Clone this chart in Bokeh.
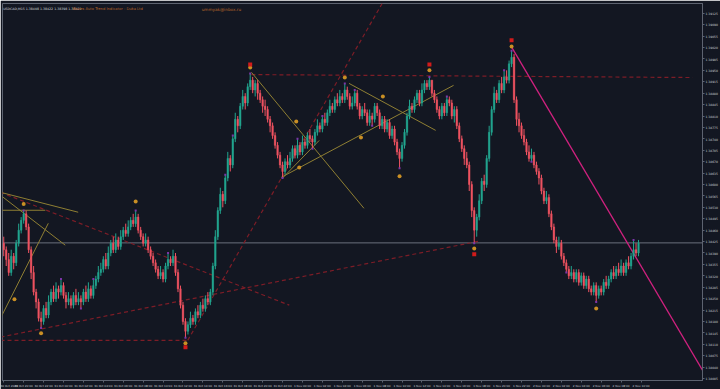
from bokeh.plotting import figure
from bokeh.models import ColumnDataSource, FixedTicker, Range1d, Label, PrintfTickFormatter
from bokeh.embed import file_html
from bokeh.resources import INLINE

# ---------------- data ----------------
symbol = "USDCAD,M15"
header_quote = ["1.38408", "1.38422", "1.38398", "1.38421"]
current_price = 1.38421

first_open = 1.3842
closes = [
    1.3840, 1.3837, 1.3833, 1.3838, 1.3836, 1.3842, 1.3846, 1.3849, 1.3851, 1.3847,
    1.3840, 1.3833, 1.3827, 1.3824, 1.3819, 1.3818, 1.3822, 1.3820, 1.3824, 1.3827,
    1.3825, 1.3828, 1.3827, 1.3829, 1.3826, 1.3824, 1.3825, 1.3823, 1.3826, 1.3824,
    1.3825, 1.3824, 1.3827, 1.3825, 1.3828, 1.3826, 1.3829, 1.3831, 1.3833, 1.3834,
    1.3837, 1.3835, 1.3839, 1.3842, 1.3840, 1.3843, 1.3841, 1.3844, 1.3846, 1.3845,
    1.3847, 1.3849, 1.3848, 1.3850, 1.3846, 1.3844, 1.3842, 1.3843, 1.3840, 1.3838,
    1.3836, 1.3834, 1.3832, 1.3833, 1.3831, 1.3835, 1.3837, 1.3836, 1.3838, 1.3833,
    1.3828, 1.3823, 1.3818, 1.3815, 1.3817, 1.3819, 1.3818, 1.3821, 1.3820, 1.3823,
    1.3822, 1.3825, 1.3824, 1.3827, 1.3835, 1.3844, 1.3852, 1.3857, 1.3855, 1.3862,
    1.3868, 1.3866, 1.3874, 1.3880, 1.3878, 1.3884, 1.3887, 1.3885, 1.3890, 1.3892,
    1.3889, 1.3891, 1.3888, 1.3886, 1.3884, 1.3883, 1.3880, 1.3878, 1.3875, 1.3872,
    1.3869, 1.3866, 1.3864, 1.3867, 1.3866, 1.3868, 1.3871, 1.3869, 1.3872, 1.3870,
    1.3873, 1.3872, 1.3875, 1.3874, 1.3873, 1.3876, 1.3878, 1.3877, 1.3880, 1.3879,
    1.3882, 1.3884, 1.3883, 1.3886, 1.3885, 1.3887, 1.3886, 1.3889, 1.3887, 1.3884,
    1.3885, 1.3888, 1.3884, 1.3881, 1.3883, 1.3882, 1.3879, 1.3881, 1.3880, 1.3884,
    1.3882, 1.3878, 1.3880, 1.3877, 1.3879, 1.3875, 1.3877, 1.3873, 1.3870, 1.3868,
    1.3872, 1.3876, 1.3881, 1.3884, 1.3883, 1.3886, 1.3888, 1.3885, 1.3889, 1.3891,
    1.3890, 1.3892, 1.3888, 1.3886, 1.3883, 1.3881, 1.3884, 1.3882, 1.3886, 1.3885,
    1.3881, 1.3883, 1.3878, 1.3874, 1.3871, 1.3868, 1.3866, 1.3860, 1.3852, 1.3846,
    1.3850, 1.3855, 1.3861, 1.3860, 1.3868, 1.3876, 1.3883, 1.3888, 1.3886, 1.3891,
    1.3889, 1.3893, 1.3892, 1.3897, 1.3899, 1.3886, 1.3880, 1.3878, 1.3875, 1.3873,
    1.3870, 1.3868, 1.3869, 1.3866, 1.3864, 1.3862, 1.3858, 1.3855, 1.3856, 1.3851,
    1.3847, 1.3843, 1.3841, 1.3842, 1.3838, 1.3836, 1.3834, 1.3832, 1.3833, 1.3831,
    1.3833, 1.3830, 1.3832, 1.3829, 1.3831, 1.3828, 1.3827, 1.3829, 1.3826, 1.3828,
    1.3827, 1.3830, 1.3829, 1.3831, 1.3833, 1.3832, 1.3834, 1.3833, 1.3835, 1.3833,
    1.3836, 1.3835, 1.3838, 1.3840, 1.3839, 1.3842]
highs = [
    1.3844, 1.3841, 1.3839, 1.3840, 1.3839, 1.3843, 1.3848, 1.3850, 1.3852, 1.3852,
    1.3848, 1.3841, 1.3835, 1.3828, 1.3825, 1.3821, 1.3823, 1.3824, 1.3826, 1.3828,
    1.3829, 1.3830, 1.3829, 1.3831, 1.3830, 1.3827, 1.3827, 1.3826, 1.3827, 1.3828,
    1.3827, 1.3826, 1.3828, 1.3829, 1.3830, 1.3829, 1.3831, 1.3832, 1.3835, 1.3836,
    1.3838, 1.3839, 1.3841, 1.3843, 1.3844, 1.3845, 1.3844, 1.3846, 1.3847, 1.3848,
    1.3849, 1.3850, 1.3851, 1.3852, 1.3851, 1.3847, 1.3845, 1.3845, 1.3844, 1.3841,
    1.3839, 1.3837, 1.3835, 1.3835, 1.3834, 1.3836, 1.3839, 1.3838, 1.3840, 1.3839,
    1.3834, 1.3829, 1.3824, 1.3819, 1.3818, 1.3821, 1.3820, 1.3822, 1.3823, 1.3824,
    1.3825, 1.3826, 1.3827, 1.3828, 1.3836, 1.3846, 1.3853, 1.3859, 1.3858, 1.3863,
    1.3870, 1.3869, 1.3875, 1.3882, 1.3881, 1.3885, 1.3889, 1.3888, 1.3891, 1.3894,
    1.3893, 1.3892, 1.3892, 1.3889, 1.3887, 1.3886, 1.3884, 1.3881, 1.3879, 1.3876,
    1.3873, 1.3870, 1.3867, 1.3868, 1.3869, 1.3870, 1.3872, 1.3872, 1.3874, 1.3873,
    1.3875, 1.3874, 1.3876, 1.3877, 1.3875, 1.3877, 1.3880, 1.3879, 1.3881, 1.3882,
    1.3883, 1.3886, 1.3885, 1.3887, 1.3888, 1.3889, 1.3888, 1.3891, 1.3890, 1.3888,
    1.3887, 1.3889, 1.3889, 1.3885, 1.3884, 1.3885, 1.3883, 1.3883, 1.3882, 1.3885,
    1.3885, 1.3883, 1.3881, 1.3881, 1.3880, 1.3880, 1.3878, 1.3878, 1.3874, 1.3871,
    1.3873, 1.3877, 1.3882, 1.3886, 1.3885, 1.3887, 1.3889, 1.3889, 1.3891, 1.3892,
    1.3892, 1.3893, 1.3892, 1.3889, 1.3887, 1.3884, 1.3885, 1.3885, 1.3887, 1.3887,
    1.3886, 1.3884, 1.3884, 1.3879, 1.3875, 1.3872, 1.3870, 1.3867, 1.3861, 1.3853,
    1.3851, 1.3857, 1.3862, 1.3863, 1.3869, 1.3878, 1.3884, 1.3890, 1.3889, 1.3892,
    1.3893, 1.3895, 1.3895, 1.3898, 1.3901, 1.3900, 1.3887, 1.3882, 1.3879, 1.3877,
    1.3874, 1.3872, 1.3871, 1.3870, 1.3867, 1.3865, 1.3863, 1.3859, 1.3858, 1.3857,
    1.3852, 1.3848, 1.3844, 1.3844, 1.3843, 1.3839, 1.3837, 1.3835, 1.3835, 1.3834,
    1.3834, 1.3834, 1.3833, 1.3833, 1.3832, 1.3832, 1.3829, 1.3830, 1.3830, 1.3829,
    1.3829, 1.3831, 1.3832, 1.3832, 1.3834, 1.3835, 1.3835, 1.3836, 1.3837, 1.3836,
    1.3837, 1.3838, 1.3839, 1.3843, 1.3842, 1.3843]
lows = [
    1.3838, 1.3835, 1.3832, 1.3832, 1.3834, 1.3835, 1.3841, 1.3845, 1.3848, 1.3846,
    1.3839, 1.3831, 1.3826, 1.3822, 1.3818, 1.3816, 1.3817, 1.3819, 1.3819, 1.3823,
    1.3824, 1.3824, 1.3825, 1.3826, 1.3825, 1.3822, 1.3823, 1.3822, 1.3822, 1.3823,
    1.3823, 1.3822, 1.3823, 1.3824, 1.3824, 1.3825, 1.3825, 1.3828, 1.3830, 1.3832,
    1.3833, 1.3834, 1.3834, 1.3838, 1.3839, 1.3839, 1.3840, 1.3840, 1.3843, 1.3844,
    1.3844, 1.3846, 1.3847, 1.3847, 1.3845, 1.3843, 1.3841, 1.3841, 1.3839, 1.3837,
    1.3835, 1.3833, 1.3831, 1.3831, 1.3830, 1.3830, 1.3834, 1.3835, 1.3835, 1.3832,
    1.3827, 1.3822, 1.3817, 1.3813, 1.3814, 1.3816, 1.3817, 1.3817, 1.3819, 1.3819,
    1.3821, 1.3821, 1.3823, 1.3823, 1.3826, 1.3834, 1.3843, 1.3851, 1.3853, 1.3854,
    1.3861, 1.3864, 1.3865, 1.3873, 1.3876, 1.3877, 1.3883, 1.3883, 1.3884, 1.3889,
    1.3888, 1.3887, 1.3886, 1.3885, 1.3882, 1.3881, 1.3879, 1.3876, 1.3874, 1.3871,
    1.3868, 1.3865, 1.3862, 1.3863, 1.3865, 1.3865, 1.3867, 1.3868, 1.3868, 1.3869,
    1.3869, 1.3871, 1.3871, 1.3873, 1.3871, 1.3872, 1.3875, 1.3876, 1.3876, 1.3878,
    1.3878, 1.3881, 1.3882, 1.3882, 1.3884, 1.3884, 1.3885, 1.3885, 1.3886, 1.3883,
    1.3883, 1.3884, 1.3883, 1.3880, 1.3880, 1.3881, 1.3878, 1.3878, 1.3878, 1.3879,
    1.3881, 1.3877, 1.3877, 1.3876, 1.3876, 1.3874, 1.3874, 1.3872, 1.3869, 1.3865,
    1.3867, 1.3871, 1.3875, 1.3880, 1.3882, 1.3882, 1.3885, 1.3884, 1.3884, 1.3888,
    1.3889, 1.3889, 1.3887, 1.3885, 1.3882, 1.3880, 1.3880, 1.3881, 1.3881, 1.3884,
    1.3880, 1.3879, 1.3877, 1.3873, 1.3870, 1.3866, 1.3865, 1.3858, 1.3850, 1.3842,
    1.3844, 1.3849, 1.3854, 1.3858, 1.3859, 1.3867, 1.3875, 1.3882, 1.3885, 1.3885,
    1.3888, 1.3888, 1.3891, 1.3891, 1.3896, 1.3885, 1.3878, 1.3876, 1.3874, 1.3872,
    1.3869, 1.3867, 1.3867, 1.3865, 1.3863, 1.3860, 1.3857, 1.3854, 1.3854, 1.3850,
    1.3846, 1.3842, 1.3839, 1.3840, 1.3837, 1.3835, 1.3833, 1.3831, 1.3831, 1.3830,
    1.3830, 1.3829, 1.3829, 1.3828, 1.3828, 1.3827, 1.3826, 1.3826, 1.3824, 1.3825,
    1.3826, 1.3826, 1.3828, 1.3828, 1.3830, 1.3831, 1.3831, 1.3832, 1.3832, 1.3832,
    1.3832, 1.3834, 1.3834, 1.3837, 1.3838, 1.3838]

price_ticks = [1.38005, 1.38040, 1.38075, 1.38110, 1.38145, 1.38180, 1.38215, 1.38250,
               1.38285, 1.38320, 1.38355, 1.38390, 1.38425, 1.38460, 1.38495, 1.38530,
               1.38565, 1.38600, 1.38635, 1.38670, 1.38705, 1.38740, 1.38775, 1.38810,
               1.38845, 1.38880, 1.38915, 1.38950, 1.38985, 1.39020, 1.39055, 1.39090,
               1.39125]
time_labels = ["30 Oct 2023", "30 Oct 20:00", "30 Oct 22:00", "31 Oct 00:00", "31 Oct 02:00",
               "31 Oct 04:00", "31 Oct 06:00", "31 Oct 08:00", "31 Oct 10:00", "31 Oct 12:00",
               "31 Oct 14:00", "31 Oct 16:00", "31 Oct 18:00", "31 Oct 20:00", "31 Oct 22:00",
               "1 Nov 00:00", "1 Nov 02:00", "1 Nov 04:00", "1 Nov 06:00", "1 Nov 08:00",
               "1 Nov 10:00", "1 Nov 12:00", "1 Nov 14:00", "1 Nov 16:00", "1 Nov 18:00",
               "1 Nov 20:00", "1 Nov 22:00", "2 Nov 00:00", "2 Nov 02:00", "2 Nov 04:00",
               "2 Nov 06:00", "2 Nov 08:00", "2 Nov 10:00"]
bars_per_label = 8  # M15 bars in 2 hours

# trend lines: (bar0, price0, bar1, price1)
red_dashed_lines = [
    (99.5, 1.38937, 276.7, 1.38928),
    (73.9, 1.38122, 152.7, 1.39164),
    (-1.3, 1.38576, 114.7, 1.38230),
    (-1.3, 1.38132, 190.7, 1.38426),
    (-1.3, 1.38122, 73.9, 1.38122),
]
magenta_line = (203.9, 1.39023, 280.7, 1.38031)
wave_lines = [
    (99.5, 1.38944, 144.7, 1.38527),
    (111.5, 1.38622, 180.7, 1.38904),
    (138.7, 1.38910, 173.5, 1.38766),
    (111.9, 1.38619, 126.7, 1.38735),
    (-1.3, 1.38576, 29.9, 1.38515),
    (-1.3, 1.38567, 24.7, 1.38414),
    (-1.3, 1.38521, 16.7, 1.38521),
    (-1.3, 1.38190, 17.9, 1.38481),
]
orange_dot_bars = [8, 15, 4.3, 53, 73, 99, 117.5, 118.7, 137, 152.3, 143.5, 159, 171, 189, 204, 238]
orange_dot_prices = [1.38540, 1.38144, 1.38248, 1.38548, 1.38113, 1.38959, 1.38793, 1.38652,
                     1.38928, 1.38870, 1.38744, 1.38625, 1.38950, 1.38404, 1.39023, 1.38220]
red_dot_bars = [73, 99, 171, 189, 204]
red_dot_prices = [1.38101, 1.38968, 1.38968, 1.38386, 1.39042]
fractal_high_bars = [8, 23, 36, 53, 66, 89, 92, 99, 118, 128, 137, 141, 171, 178, 201, 204, 253]
fractal_low_bars = [15, 31, 73, 112, 124, 148, 159, 189, 212, 226, 238]

# ---------------- figure ----------------
BG = "#131722"
UP = "#22a58f"
DOWN = "#ef5361"
AXIS = "#5d6370"
LABEL = "#c9ccd2"
FONT = "DejaVu Sans"

n = len(closes)
opens = [first_open] + closes[:-1]
idx = list(range(n))
colors = [UP if c >= o else DOWN for o, c in zip(opens, closes)]
body_top = [max(o, c) for o, c in zip(opens, closes)]
body_bot = [min(o, c) for o, c in zip(opens, closes)]

src = ColumnDataSource(dict(x=idx, o=opens, c=closes, h=highs, l=lows, color=colors,
                            top=body_top, bot=body_bot))

X0, X1 = -0.5, 280.7
p = figure(width=720, height=389, output_backend="svg", toolbar_location=None,
           x_range=Range1d(X0, X1), y_range=Range1d(1.37999, 1.39155),
           y_axis_location="right", min_border_left=2, min_border_top=3,
           min_border_right=1, min_border_bottom=2)
p.background_fill_color = BG
p.border_fill_color = BG
p.outline_line_color = AXIS
p.xgrid.visible = False
p.ygrid.visible = False

# current price line
p.segment(x0=X0, y0=current_price, x1=X1, y1=current_price, line_color="#6b717d", line_width=1)

# trend / wave lines
for (a, b, c, d) in red_dashed_lines:
    p.segment(x0=a, y0=b, x1=c, y1=d, line_color="#7d1d27", line_width=1.2, line_dash="4 3")
p.segment(x0=magenta_line[0], y0=magenta_line[1], x1=magenta_line[2], y1=magenta_line[3],
          line_color="#d0217f", line_width=1.3)
for (a, b, c, d) in wave_lines:
    p.segment(x0=a, y0=b, x1=c, y1=d, line_color="#8f7f33", line_width=1)

# candles
p.segment(x0="x", y0="h", x1="x", y1="l", line_color="color", line_width=1, source=src)
p.vbar(x="x", top="top", bottom="bot", width=0.6, fill_color="color", line_color="color",
       line_width=0.5, source=src)

# fractal tips
p.scatter(x=fractal_high_bars, y=[highs[i] for i in fractal_high_bars], marker="square",
          size=2, fill_color="#7b35a8", line_color=None)
p.scatter(x=fractal_low_bars, y=[lows[i] for i in fractal_low_bars], marker="square",
          size=2, fill_color="#7b35a8", line_color=None)

# wave points
p.scatter(x=orange_dot_bars, y=orange_dot_prices, size=4, fill_color="#c98f24", line_color=None)
p.scatter(x=red_dot_bars, y=red_dot_prices, size=4, marker="square", fill_color="#d11b1b", line_color=None)

# axes
yax = p.yaxis[0]
yax.ticker = FixedTicker(ticks=price_ticks)
yax.formatter = PrintfTickFormatter(format="%.5f")
yax.major_label_text_font_size = "3px"
yax.major_label_text_color = LABEL
yax.major_label_text_font = FONT
yax.axis_line_color = AXIS
yax.major_tick_line_color = AXIS
yax.major_tick_out = 2
yax.major_tick_in = 0
yax.minor_tick_line_color = None
yax.major_label_standoff = 1

xax = p.xaxis[0]
ticks = [i * bars_per_label for i in range(len(time_labels))]
xax.ticker = FixedTicker(ticks=ticks)
xax.major_label_overrides = {t: s for t, s in zip(ticks, time_labels)}
xax.major_label_text_font_size = "2.8px"
xax.major_label_text_color = LABEL
xax.major_label_text_font = FONT
xax.major_label_text_align = "left"
xax.axis_line_color = AXIS
xax.major_tick_line_color = AXIS
xax.major_tick_out = 2
xax.major_tick_in = 0
xax.minor_tick_line_color = None
xax.major_label_standoff = 1

# header texts
p.add_layout(Label(x=X0 + 0.3, y=1.39138, text=f"{symbol}  " + " ".join(header_quote),
                   text_font_size="3.2px", text_color="#d5d7db", text_font=FONT, text_baseline="middle"))
p.add_layout(Label(x=27.5, y=1.39138, text="Waves Auto Trend Indicator - Duka Ltd",
                   text_font_size="3.7px", text_color="#b8652a", text_font=FONT, text_baseline="middle"))
p.add_layout(Label(x=79.5, y=1.39138, text="ummyak@inbox.ru",
                   text_font_size="4.2px", text_color="#b8652a", text_font=FONT, text_baseline="middle"))

# current price tag on the axis
p.add_layout(Label(x=X1, x_offset=1, y=current_price, text=f"{current_price:.5f}", text_font_size="3px",
                   text_color="#111111", text_font=FONT, text_baseline="middle",
                   background_fill_color="#f0f0f0"))

open("out.html", "w").write(file_html(p, INLINE))
